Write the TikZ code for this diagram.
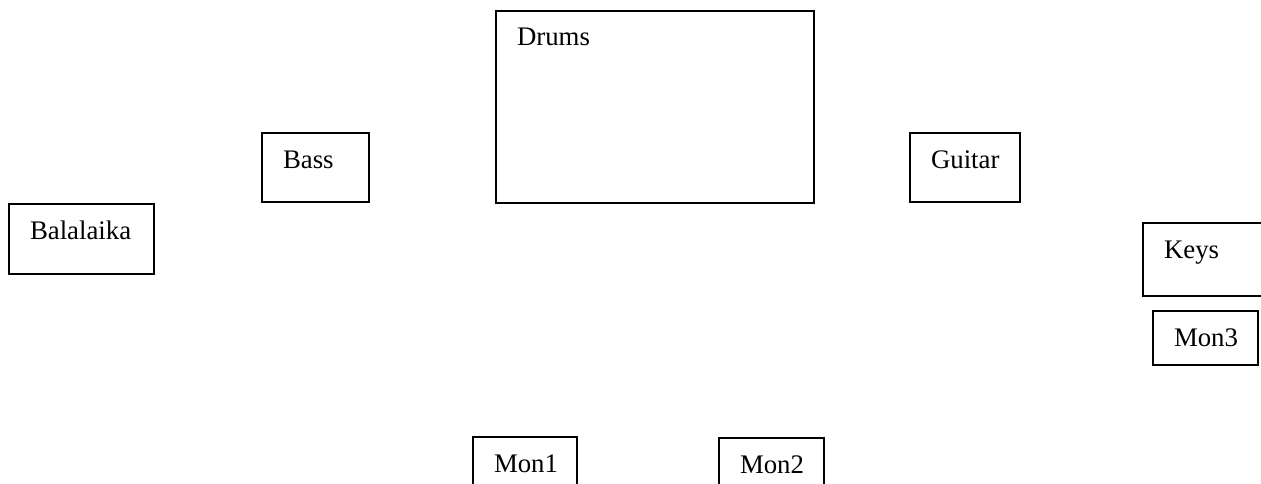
\documentclass[tikz,border=0pt]{standalone}
\usepackage{fontspec}
\setmainfont{Liberation Serif}
\usepackage{tikz}
\tikzstyle{stagebox}=[draw,line width=1.8pt,anchor=north west,inner xsep=21pt,inner ysep=0pt,
    outer sep=0pt,align=left,text height=35pt,font=\fontsize{26.8}{30}\selectfont]

\begin{document}
\begin{tikzpicture}[x=1pt,y=-1pt]
    \useasboundingbox (0,0) rectangle (1261,484);
    \clip (0,0) rectangle (1261,484);
    \foreach \x/\y/\w/\h/\name/\txt in {496/11/318/192/drums/Drums,
    262/133/107/69/bass/Bass, 910/133/110/69/guitar/Guitar,
    9/204/145/70/balalaika/Balalaika, 1143/223/130/73/keys/Keys,
    1153/311/105/54/mon3/Mon3, 473/437/104/70/mon1/Mon1, 719/438/105/70/mon2/Mon2}
    {
        \pgfmathsetmacro\tw{\w-42}
        \pgfmathsetmacro\td{\h-35}
        \node[stagebox,text width=\tw pt,text depth=\td pt] (\name) at (\x,\y) {\txt};
    }
\end{tikzpicture}
\end{document}
